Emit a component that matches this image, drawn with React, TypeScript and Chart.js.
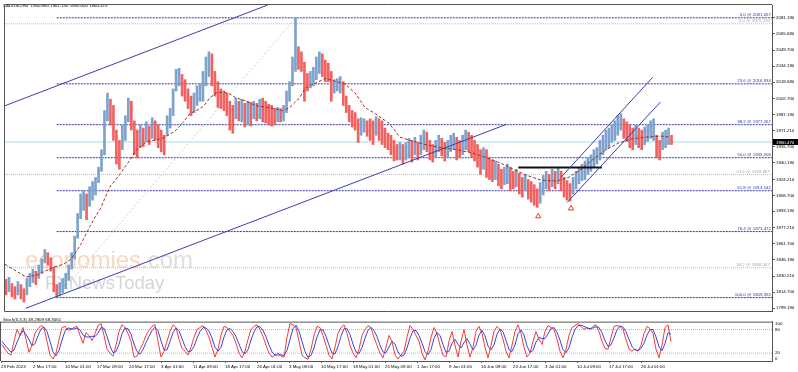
import React, { useEffect, useRef } from "react";
import { Chart, registerables } from "chart.js";
Chart.register(...registerables);

// ---------- DATA ----------
const title = "XAUUSD,H4  1960.880 1961.150 1960.000 1960.470";
const stochTitle = "Stoch(5,3,3) 49.2909 68.3061";
const lastPrice = 1960.47;

const xLabels = ["23 Feb 2023","2 Mar 17:00","10 Mar 01:00","17 Mar 09:00","24 Mar 17:00","3 Apr 01:00","11 Apr 09:00","18 Apr 17:00","26 Apr 01:00","3 May 09:00","10 May 17:00","18 May 01:00","25 May 09:00","1 Jun 17:00","9 Jun 01:00","16 Jun 09:00","23 Jun 17:00","3 Jul 01:00","10 Jul 09:00","17 Jul 17:00","26 Jul 01:00"];
const xLabelBars = [0,32,64,96,128,160,192,224,256,288,320,352,384,416,448,480,512,544,576,608,640];

const yTicks = [2081.19,2065.68,2049.7,2034.19,2018.68,2002.7,1987.19,1971.21,1955.7,1940.19,1924.21,1908.7,1893.19,1877.21,1861.7,1846.19,1830.21,1814.7,1799.19];

// one entry per 3 H4 bars
const barStep = 3;
const highs = [
1827,1829,1823,1820,1825,1822,1818,1828,1833,1837,
1835,1841,1847,1856,1853,1848,1839,1822,1824,1828,
1833,1841,1853,1869,1891,1910,1913,1910,1917,1922,
1926,1936,1953,1991,2008,2002,1996,1972,1962,1977,
1986,2003,2000,1981,1972,1977,1974,1980,1976,1984,
1981,1977,1972,1967,1986,1993,2012,2031,2032,2026,
2021,2012,2005,2008,2015,2017,2029,2043,2048,2046,
2029,2019,2012,2010,2008,2000,1996,2003,2000,2002,
1998,2000,1999,2000,1998,2002,2003,2000,1997,1996,
1993,1994,1993,1996,2010,2019,2043,2081,2053,2048,
2038,2027,2029,2033,2043,2048,2046,2040,2037,2029,
2021,2022,2024,2019,2005,1996,1991,1989,1983,1984,
1983,1981,1983,1981,1985,1983,1981,1974,1969,1967,
1962,1958,1960,1958,1960,1964,1962,1965,1960,1967,
1972,1970,1962,1958,1962,1967,1964,1960,1962,1967,
1969,1965,1962,1967,1972,1970,1967,1962,1958,1953,
1955,1953,1945,1943,1942,1939,1934,1936,1939,1936,
1932,1934,1930,1926,1929,1924,1922,1919,1915,1921,
1928,1932,1929,1934,1932,1936,1932,1926,1923,1920,
1926,1932,1936,1939,1942,1945,1948,1953,1955,1962,
1967,1972,1974,1977,1981,1986,1988,1983,1980,1977,
1974,1977,1974,1972,1975,1977,1981,1983,1967,1962,
1970,1972,1974,1967];
const lows = [
1812,1815,1810,1808,1812,1808,1805,1812,1820,1824,
1822,1828,1833,1843,1841,1835,1815,1809,1811,1814,
1818,1826,1837,1847,1867,1886,1894,1885,1898,1904,
1909,1921,1932,1948,1981,1977,1962,1939,1934,1953,
1962,1980,1972,1948,1945,1955,1956,1961,1958,1964,
1962,1955,1951,1948,1967,1974,1986,2010,2015,2005,
2000,1993,1986,1989,1996,2000,2000,2015,2024,2015,
2005,1994,1993,1991,1986,1972,1969,1983,1981,1980,
1975,1977,1976,1983,1981,1983,1980,1979,1977,1976,
1977,1980,1980,1981,1989,2000,2015,2029,2031,2029,
2000,2010,2013,2015,2021,2027,2024,2019,2019,2000,
2008,2010,2008,1996,1989,1980,1975,1972,1960,1967,
1970,1966,1962,1958,1967,1962,1958,1955,1953,1948,
1942,1943,1943,1939,1943,1945,1941,1948,1943,1948,
1953,1951,1943,1941,1946,1951,1947,1942,1945,1951,
1953,1943,1945,1948,1953,1951,1946,1942,1936,1929,
1934,1926,1924,1922,1924,1918,1915,1919,1920,1913,
1915,1917,1910,1907,1913,1905,1902,1899,1897,1901,
1909,1915,1913,1917,1915,1920,1913,1907,1904,1903,
1910,1915,1920,1923,1924,1929,1932,1936,1939,1943,
1948,1953,1955,1960,1962,1967,1972,1964,1961,1955,
1953,1958,1955,1953,1958,1961,1964,1962,1945,1943,
1953,1955,1958,1958];

const stochMain = [
42,30,20,15,50,80,65,85,55,22, 40,70,82,90,85,50,15,5,20,55,
85,88,78,80,85,88,65,45,72,65, 52,70,90,95,65,30,20,12,40,75,
92,85,70,50,10,12,30,45,65,78, 88,92,50,10,25,50,75,92,85,55,
32,25,15,35,60,80,85,90,78,60, 35,10,30,65,88,85,75,65,45,20,
8,25,55,80,88,92,80,62,40,20, 10,15,20,12,10,60,95,92,85,50,
15,8,5,30,65,88,85,65,40,15, 5,35,70,85,92,70,40,20,8,30,
65,80,90,85,60,40,20,8,35,65, 50,15,5,15,25,60,90,80,65,50,
20,3,25,60,85,70,40,15,10,50, 75,40,10,50,80,40,10,35,75,88,
70,35,8,40,75,88,80,55,25,8, 40,75,92,70,35,10,20,50,75,55,
42,75,90,85,80,55,25,8,30,65, 85,90,95,88,80,85,80,88,92,75,
50,32,30,60,88,90,88,80,55,30, 25,30,25,40,70,88,82,70,30,8,
40,85,92,49];
const stochSignal = [
50,40,31,22,28,48,65,77,68,54, 39,44,64,81,86,75,50,23,13,27,
53,76,84,82,81,84,79,66,61,61, 63,62,71,85,83,63,38,21,24,42,
69,84,82,68,43,24,17,29,47,63, 77,86,77,51,28,28,50,72,84,77,
57,37,24,25,37,58,75,85,84,76, 58,35,25,35,61,79,83,75,62,43,
24,18,29,53,74,87,87,78,61,41, 23,15,15,16,14,27,55,82,91,76,
50,24,9,14,33,61,79,79,63,40, 20,18,37,63,82,82,67,43,23,19,
34,58,78,85,78,62,40,23,21,36, 50,43,23,12,15,33,58,77,78,65,
45,24,16,29,57,72,65,42,22,25, 45,55,42,33,47,57,43,28,40,66,
78,64,38,28,41,68,81,74,53,29, 24,41,69,79,66,38,22,27,48,60,
57,57,69,83,85,73,53,29,21,34, 60,80,90,91,88,84,82,84,87,85,
72,52,37,41,59,79,89,86,74,55, 37,28,27,32,45,66,80,80,61,36,
26,44,72,68];
const stochLevels = [80, 20];
const stochTickPos = [93.3, 80, 20, 6.7];
const stochTickLabels = ["100", "80", "20", "0"];

// moving average (bar index, price)
const maBars = [0,21,32,49,59,66,71,76,81,86,91,96,101,106,114,121,126,132,142,151,159,166,172,179,186,194,199,206,212,219,226,232,242,252,266,279,286,291,296,302,307,312,322,332,342,352,362,372,386,397,409,424,439,454,469,484,499,511,524,539,554,567,579,591,604,617,629,644,659,669];
const maPrices = [1841.7,1829.4,1831.3,1838.9,1841.8,1846.5,1853.2,1860.8,1870.2,1879.7,1888.3,1895.9,1907.3,1917.8,1927.2,1936.8,1943.4,1952.9,1960.5,1962.4,1964.3,1968.1,1971.9,1979.5,1988.1,1991.9,1994.7,2003.3,2008.0,2009.0,2007.1,2003.3,2000.4,1995.7,1993.8,1990.9,1993.8,1998.5,2003.3,2012.8,2015.6,2017.5,2022.3,2019.4,2016.6,2008.0,1993.8,1988.1,1978.6,1965.2,1961.4,1957.6,1954.8,1952.9,1950.0,1945.3,1939.6,1933.9,1928.2,1923.4,1922.5,1926.3,1933.9,1943.4,1952.9,1959.6,1963.3,1965.2,1966.2,1965.2];

// Fibonacci levels
const fibBlueStart = 52;
const fibBlueRatios = ["0.0","23.6","38.2","50.0","61.8","76.4","100.0"];
const fibBlueLevels = [2081.057,2016.934,1977.267,1945.206,1913.142,1873.472,1809.355];
const fibGrayRatios = ["0.0","23.6","38.2"];
const fibGrayLevels = [2075.24,1928.887,1838.347];

// trend lines: [bar1, price1, bar2, price2]
const channelLines = [
  [0, 1995.7, 264, 2093.5],
  [21, 1799.0, 504, 1977.6],
  [559, 1926.3, 651, 2023.2],
  [565, 1901.6, 659, 1999.4],
];
const fibDiagonal = [52, 1809.355, 292, 2081.057];
const resistance = [516, 1935.8, 600, 1935.8];
const arrowBars = [536, 569];
const arrowPrices = [1888.3, 1895.9];

// ---------- STYLE ----------
const FAMILY = '"Liberation Sans", Arial, sans-serif';
const FS = 4.4;
const FONT = { family: FAMILY, size: FS };
const UP = "#7da3cc";
const DOWN = "#f2615e";
const FRAME = "#555555";
const LAST_X = 771;

function seg(x1: number, y1: number, x2: number, y2: number, color: string, width: number, dash: number[], order: number) {
  return {
    type: "line",
    data: [{ x: x1, y: y1 }, { x: x2, y: y2 }],
    borderColor: color,
    borderWidth: width,
    borderDash: dash,
    pointRadius: 0,
    tension: 0,
    order,
  };
}

export default function App() {
  const mainRef = useRef<HTMLCanvasElement>(null);
  const stochRef = useRef<HTMLCanvasElement>(null);

  useEffect(() => {
    document.body.style.margin = "0";
    const barData = highs.map((h, i) => ({ x: barStep * i + 1, y: [lows[i], h] }));
    const barColors = highs.map((h, i) => {
      if (i === 0) return DOWN;
      return h + lows[i] >= highs[i - 1] + lows[i - 1] ? UP : DOWN;
    });

    const datasets: any[] = [];
    fibGrayLevels.forEach((lv) => datasets.push(seg(0, lv, LAST_X, lv, "#bdbdbd", 1, [1, 1], 12)));
    fibBlueLevels.forEach((lv) => datasets.push(seg(fibBlueStart, lv, LAST_X, lv, "#3434ae", 1, [2, 1], 11)));
    datasets.push(seg(fibDiagonal[0], fibDiagonal[1], fibDiagonal[2], fibDiagonal[3], "#d0d0d0", 1, [2, 2], 10));
    datasets.push(seg(0, lastPrice, LAST_X, lastPrice, "#a9dbe8", 1, [], 9));
    datasets.push({
      type: "bar",
      data: barData,
      backgroundColor: barColors,
      borderWidth: 0,
      barThickness: 2,
      grouped: false,
      order: 5,
    });
    datasets.push({
      type: "line",
      data: maBars.map((b, i) => ({ x: b, y: maPrices[i] })),
      borderColor: "#9b2c2c",
      borderWidth: 1,
      borderDash: [3, 2],
      pointRadius: 0,
      tension: 0,
      order: 3,
    });
    channelLines.forEach((l) => datasets.push(seg(l[0], l[1], l[2], l[3], "#3d3da8", 1, [], 2)));
    datasets.push(seg(resistance[0], resistance[1], resistance[2], resistance[3], "#111111", 2, [], 2));
    datasets.push({
      type: "line",
      data: arrowBars.map((b, i) => ({ x: b, y: arrowPrices[i] })),
      showLine: false,
      pointStyle: "triangle",
      pointRadius: 3,
      pointBorderWidth: 1,
      pointBorderColor: "#e0402a",
      pointBackgroundColor: "#ffffff",
      order: 1,
    });

    const mainPlugin = {
      id: "mainDeco",
      beforeDatasetsDraw(chart: any) {
        const ctx = chart.ctx;
        ctx.save();
        ctx.textBaseline = "alphabetic";
        ctx.textAlign = "left";
        ctx.font = `24px ${FAMILY}`;
        ctx.fillStyle = "rgba(246,178,130,0.5)";
        ctx.fillText("economies", 25, 268);
        const w = ctx.measureText("economies").width;
        ctx.fillStyle = "rgba(200,195,190,0.55)";
        ctx.fillText(".com", 25 + w, 268);
        ctx.font = `18.5px ${FAMILY}`;
        ctx.fillStyle = "rgba(185,185,185,0.6)";
        ctx.fillText("FXNewsToday", 45, 289);
        ctx.restore();
      },
      afterDraw(chart: any) {
        const ctx = chart.ctx;
        const a = chart.chartArea;
        const ys = chart.scales.y;
        ctx.save();
        ctx.font = `${FS}px ${FAMILY}`;
        ctx.textBaseline = "alphabetic";
        ctx.textAlign = "right";
        fibBlueLevels.forEach((lv, i) => {
          const y = ys.getPixelForValue(lv);
          ctx.fillStyle = "#3434ae";
          ctx.fillText(`${fibBlueRatios[i]} @ ${lv.toFixed(3)}`, a.right - 1, y - 1.5);
        });
        fibGrayLevels.forEach((lv, i) => {
          const y = ys.getPixelForValue(lv);
          ctx.fillStyle = "#a8a8a8";
          ctx.fillText(`${fibGrayRatios[i]} @ ${lv.toFixed(3)}`, a.right - 2, y - 1.5);
        });
        ctx.textAlign = "left";
        ctx.fillStyle = "#000";
        ctx.fillText(title, 3, 7);
        // frame
        ctx.strokeStyle = FRAME;
        ctx.lineWidth = 1;
        ctx.beginPath();
        ctx.moveTo(a.left - 0.5, a.top - 0.5);
        ctx.lineTo(a.right, a.top - 0.5);
        ctx.moveTo(a.left - 0.5, a.top - 0.5);
        ctx.lineTo(a.left - 0.5, a.bottom + 0.5);
        ctx.lineTo(a.right, a.bottom + 0.5);
        ctx.stroke();
        // last price box
        const py = Math.round(ys.getPixelForValue(lastPrice));
        ctx.fillStyle = "#000";
        ctx.fillRect(a.right + 1, py - 3, 25, 6);
        ctx.fillStyle = "#fff";
        ctx.textBaseline = "middle";
        ctx.fillText(lastPrice.toFixed(3), a.right + 4, py + 0.3);
        ctx.restore();
      },
    };

    const main = new Chart(mainRef.current as HTMLCanvasElement, {
      type: "bar",
      data: { datasets },
      options: {
        animation: false,
        responsive: false,
        devicePixelRatio: 1,
        events: [],
        layout: { padding: { left: 1, top: 2, right: 0, bottom: 1 } },
        plugins: { legend: { display: false }, tooltip: { enabled: false } },
        scales: {
          x: { type: "linear", min: 0, max: LAST_X, display: false, offset: false, grid: { offset: false } },
          y: {
            type: "linear",
            position: "right",
            min: 1796.34,
            max: 2093.5,
            bounds: "data",
            afterBuildTicks: (s: any) => { s.ticks = yTicks.map((v) => ({ value: v })); },
            afterFit: (s: any) => { s.width = 26; },
            ticks: { autoSkip: false, font: FONT, color: "#000", padding: 1, callback: (v: any) => Number(v).toFixed(3) },
            grid: { drawOnChartArea: false, drawTicks: true, tickLength: 3, color: "#666" },
            border: { display: true, color: FRAME, width: 1 },
          },
        },
      } as any,
      plugins: [mainPlugin],
    } as any);

    const stochDatasets: any[] = [];
    stochLevels.forEach((lv) => stochDatasets.push(seg(0, lv, LAST_X, lv, "#b8b8b8", 1, [1, 1], 5)));
    stochDatasets.push({
      type: "line",
      data: stochMain.map((v, i) => ({ x: barStep * i + 1, y: v })),
      borderColor: "#ee3d3a",
      borderWidth: 1,
      pointRadius: 0,
      tension: 0,
      order: 2,
    });
    stochDatasets.push({
      type: "line",
      data: stochSignal.map((v, i) => ({ x: barStep * i + 1, y: v })),
      borderColor: "#3d44d6",
      borderWidth: 1,
      pointRadius: 0,
      tension: 0,
      order: 1,
    });

    const stochPlugin = {
      id: "stochDeco",
      afterDraw(chart: any) {
        const ctx = chart.ctx;
        const a = chart.chartArea;
        ctx.save();
        ctx.strokeStyle = FRAME;
        ctx.lineWidth = 1;
        ctx.beginPath();
        ctx.moveTo(a.left - 0.5, a.top + 0.5);
        ctx.lineTo(a.right, a.top + 0.5);
        ctx.moveTo(a.left - 0.5, a.top);
        ctx.lineTo(a.left - 0.5, a.bottom);
        ctx.stroke();
        ctx.font = `${FS}px ${FAMILY}`;
        ctx.fillStyle = "#000";
        ctx.textAlign = "left";
        ctx.textBaseline = "alphabetic";
        ctx.fillText(stochTitle, 3, 5);
        ctx.restore();
      },
    };

    const stoch = new Chart(stochRef.current as HTMLCanvasElement, {
      type: "line",
      data: { datasets: stochDatasets },
      options: {
        animation: false,
        responsive: false,
        devicePixelRatio: 1,
        events: [],
        layout: { padding: { left: 1, top: 0, right: 0, bottom: 0 } },
        plugins: { legend: { display: false }, tooltip: { enabled: false } },
        scales: {
          x: {
            type: "linear",
            min: 0,
            max: LAST_X,
            offset: false,
            bounds: "data",
            afterBuildTicks: (s: any) => { s.ticks = xLabelBars.map((v) => ({ value: v })); },
            afterFit: (s: any) => { s.height = 11; },
            ticks: { autoSkip: false, maxRotation: 0, minRotation: 0, align: "start", font: FONT, color: "#000", padding: 1, callback: (_v: any, i: number) => xLabels[i] },
            grid: { drawOnChartArea: false, drawTicks: true, tickLength: 2, color: "#666" },
            border: { display: true, color: FRAME, width: 1 },
          },
          y: {
            type: "linear",
            position: "right",
            min: 0,
            max: 100,
            bounds: "data",
            afterBuildTicks: (s: any) => { s.ticks = stochTickPos.map((v) => ({ value: v })); },
            afterFit: (s: any) => { s.width = 26; },
            ticks: { autoSkip: false, font: FONT, color: "#000", padding: 3, callback: (_v: any, i: number) => stochTickLabels[i] },
            grid: { drawOnChartArea: false, drawTicks: false },
            border: { display: true, color: FRAME, width: 1 },
          },
        },
      } as any,
      plugins: [stochPlugin],
    } as any);

    return () => {
      main.destroy();
      stoch.destroy();
    };
  }, []);

  return (
    <div style={{ position: "absolute", left: 0, top: 0, width: 798, height: 372, background: "#ffffff", overflow: "hidden" }}>
      <canvas ref={mainRef} width={798} height={316} style={{ position: "absolute", left: 0, top: 0, width: 798, height: 316 }} />
      <canvas ref={stochRef} width={798} height={56} style={{ position: "absolute", left: 0, top: 316, width: 798, height: 56 }} />
    </div>
  );
}
